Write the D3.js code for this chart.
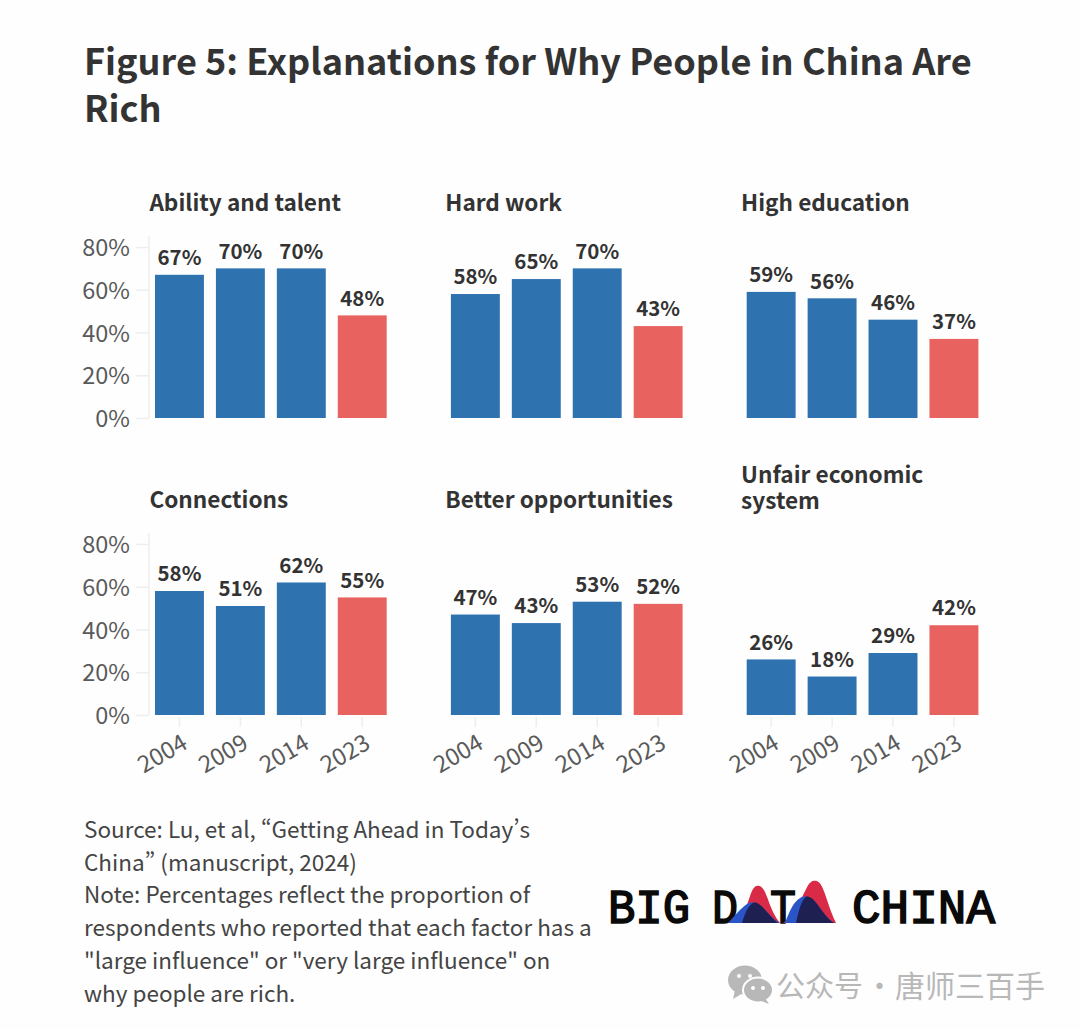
<!DOCTYPE html>
<html><head><meta charset="utf-8">
<script src="https://cdnjs.cloudflare.com/ajax/libs/d3/7.8.5/d3.min.js"></script>
<style>html,body{margin:0;padding:0;background:#fefefe}svg{display:block}
text{font-family:"Noto Sans CJK SC","Noto Sans",sans-serif;font-feature-settings:"pwid"}</style></head>
<body><div id="c"></div>
<script>
const years=["2004","2009","2014","2023"];
const panelTitles=[["Ability and talent"],["Hard work"],["High education"],["Connections"],["Better opportunities"],["Unfair economic","system"]];
const ability=[67,70,70,48];
const hardWork=[58,65,70,43];
const education=[59,56,46,37];
const connections=[58,51,62,55];
const opportunities=[47,43,53,52];
const unfair=[26,18,29,42];
const series=[ability,hardWork,education,connections,opportunities,unfair];
const yTicks=[0,20,40,60,80];
const titleLines=["Figure 5: Explanations for Why People in China Are","Rich"];
const noteLines=["Source: Lu, et al, “Getting Ahead in Today’s","China” (manuscript, 2024)","Note: Percentages reflect the proportion of","respondents who reported that each factor has a","\"large influence\" or \"very large influence\" on","why people are rich."];

const svg=d3.select("#c").append("svg").attr("width",1080).attr("height",1029);
svg.selectAll(".t").data(titleLines).join("text").attr("x",84).attr("y",(d,i)=>75+i*47)
 .attr("font-size",36.1).attr("font-weight",700).attr("fill","#333").text(d=>d);

const colX=[0,295.9,591.7], rowY=[418,715];
const x0=d3.scaleBand().domain(years).range([155,386.7]).paddingInner(0.197);
const axisCol="#eeeeee";
series.forEach((vals,i)=>{
  const col=i%3,row=Math.floor(i/3);
  const g=svg.append("g").attr("transform",`translate(${colX[col]},0)`);
  const y=d3.scaleLinear().domain([0,80]).range([rowY[row],rowY[row]-171]);
  panelTitles[i].forEach((s,k)=>{
    const base=panelTitles[i].length>1?483+k*26:(row?508:211);
    g.append("text").attr("x",149.4).attr("y",base).attr("font-size",22.6).attr("font-weight",700).attr("fill","#333").text(s);
  });
  if(col===0){
    const ax=g.append("g").attr("transform","translate(149,0)").call(d3.axisLeft(y).tickValues(yTicks).tickSize(13).tickPadding(6).tickFormat(d=>d+"%"));
    ax.select(".domain").attr("stroke",axisCol).attr("stroke-width",1.5).attr("d",`M0,${rowY[row]-182}V${rowY[row]}`);
    ax.selectAll("line").attr("stroke",axisCol).attr("stroke-width",1.5);
    ax.selectAll("text").attr("font-size",23.5).attr("fill","#5a5a5a").attr("font-family","\"Noto Sans CJK SC\"").attr("transform","translate(0,1)");
  }
  if(row===1){
    const ax=g.append("g").attr("transform",`translate(0,${rowY[row]+2})`).call(d3.axisBottom(x0).tickSize(10).tickPadding(8));
    ax.select(".domain").remove();
    ax.selectAll("line").attr("stroke",axisCol).attr("stroke-width",1.5);
    ax.selectAll("text").attr("font-size",23.5).attr("fill","#5a5a5a").attr("font-family","\"Noto Sans CJK SC\"")
      .attr("text-anchor","end").attr("dy",0)
      .attr("transform","translate(0.5,15) rotate(-30)");
  }
  g.selectAll("rect").data(vals).join("rect")
   .attr("x",(d,k)=>x0(years[k])).attr("width",x0.bandwidth())
   .attr("y",d=>y(d)).attr("height",d=>y(0)-y(d))
   .attr("fill",(d,k)=>k===3?"#e8625f":"#2e72b0");
  g.selectAll(".v").data(vals).join("text").attr("class","v")
   .attr("x",(d,k)=>x0(years[k])+x0.bandwidth()/2).attr("y",d=>y(d)-9.8)
   .attr("text-anchor","middle").attr("font-size",20.5).attr("font-weight",700).attr("fill","#333").text(d=>d+"%");
});

svg.selectAll(".n").data(noteLines).join("text").attr("x",84).attr("y",(d,i)=>838+i*32.7)
 .attr("font-size",22.5).attr("fill","#444").text(d=>d);

// Logo
const logoText=[["BIG",608,82],["D",712,26],["T",770,26],["CHINA",852,143]];
const logo=svg.append("g");
logoText.forEach(([s,xx,w])=>{
 logo.append("text").attr("x",xx).attr("y",923).attr("textLength",w).attr("lengthAdjust","spacingAndGlyphs")
  .attr("font-size",48).attr("font-weight",400).attr("fill","#0a0a0a").attr("stroke","#0a0a0a").attr("stroke-width",1.6)
  .style("font-family","'Liberation Mono',monospace").text(s);
});
const ridge=d3.line().x(d=>d[0]).y(d=>d[1]).curve(d3.curveBasis);
const redA=[[732,923],[745,915],[752,887],[758,885],[764,887],[772,912],[780,923]];
const redB=[[783,923],[795,915],[808,882],[815,880],[822,883],[830,910],[836,923]];
const blueA=[[728,923],[738,912],[747,903],[754,902],[762,906],[772,918],[780,923]];
const blueB=[[785,923],[792,905],[800,897],[807,896],[815,900],[826,917],[834,923]];
[[redA,"#d92b48"],[redB,"#d92b48"],[blueA,"#2a55c8"],[blueB,"#2a55c8"]].forEach(([p,c])=>logo.append("path").attr("d",ridge(p)+"Z").attr("fill",c));
const darkA=[[742,923],[746,910],[752,903],[756,902],[762,906],[772,918],[778,923]];
const darkB=[[796,923],[800,905],[805,897],[808,896],[815,900],[826,917],[834,923]];
[darkA,darkB].forEach(p=>logo.append("path").attr("d",ridge(p)+"Z").attr("fill","#1d2050"));

// Watermark
const wm=svg.append("g").attr("fill","#b8b8b8");
wm.append("ellipse").attr("cx",745).attr("cy",980).attr("rx",17).attr("ry",14.5);
wm.append("path").attr("d","M735,990l-2,9l10,-6z");
wm.append("ellipse").attr("cx",758).attr("cy",990).attr("rx",15).attr("ry",12.5).attr("stroke","#fefefe").attr("stroke-width",2);
wm.append("path").attr("d","M765,998l4,6l-10,-4z");
[[739,976],[750,976],[753,988],[763,988]].forEach(([a,b])=>wm.append("circle").attr("cx",a).attr("cy",b).attr("r",2).attr("fill","#fefefe"));
const wmText=[["公众号",776,29],["·",865,29],["唐师三百手",895,30]];
wmText.forEach(([s,xx,fs])=>svg.append("text").attr("x",xx).attr("y",997).attr("font-size",fs).attr("fill","#b8b8b8").style("font-feature-settings","normal").text(s));
</script></body></html>
